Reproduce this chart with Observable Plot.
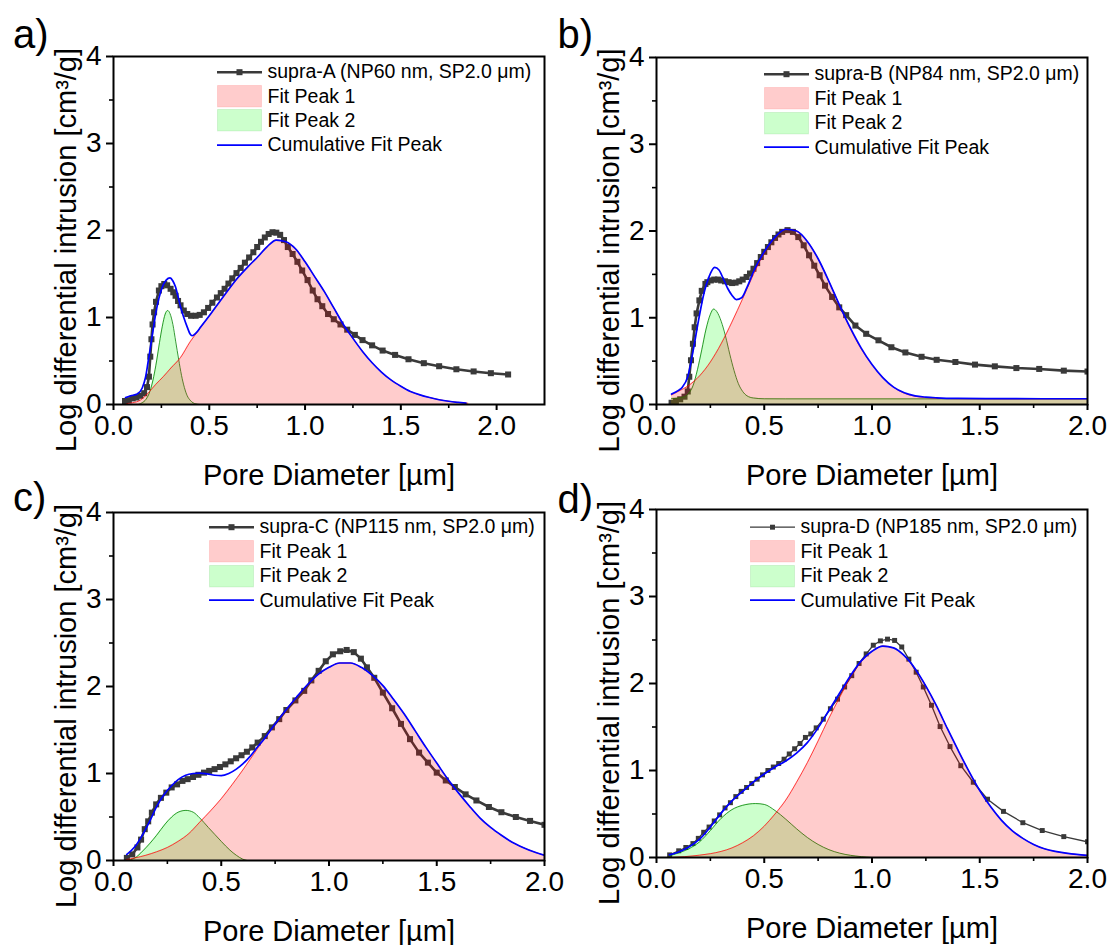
<!DOCTYPE html>
<html>
<head>
<meta charset="utf-8">
<script src="https://cdn.jsdelivr.net/npm/d3@7"></script>
<script src="https://cdn.jsdelivr.net/npm/@observablehq/plot@0.6"></script>
<style>
  body { margin: 0; background: #fff; }
  #root { position: relative; width: 1110px; height: 945px; overflow: hidden; font-family: "Liberation Sans", Arial, Helvetica, sans-serif; }
  .panel { position: absolute; }
  .legend { position: absolute; font-size: 19.5px; color: #000; }
  .row { position: absolute; left: 0; display: flex; align-items: center; white-space: nowrap; }
  .row svg { display: block; flex: none; }
  .row span { margin-left: 5.5px; }
</style>
</head>
<body>
<div id="root"></div>
<script>
// ---------------- DATA ----------------
const xLabel = "Pore Diameter [µm]";
const yLabel = "Log differential intrusion [cm³/g]";
const legendFit1 = "Fit Peak 1";
const legendFit2 = "Fit Peak 2";
const legendCum = "Cumulative Fit Peak";
const namesMeasured = ["supra-A (NP60 nm, SP2.0 μm)", "supra-B (NP84 nm, SP2.0 μm)", "supra-C (NP115 nm, SP2.0 μm)", "supra-D (NP185 nm, SP2.0 μm)"];
const panelLabels = ["a)", "b)", "c)", "d)"];
const xMaxes = [2.25, 2.0, 2.0, 2.0];
const majorXTicks = [0, 0.5, 1.0, 1.5, 2.0];
const minorXTicks = [0.25, 0.75, 1.25, 1.75];
const majorYTicks = [0, 1, 2, 3, 4];
const minorYTicks = [0.5, 1.5, 2.5, 3.5];

// panel a
const measuredA = [[0.06,0.04],[0.08,0.05],[0.10,0.07],[0.12,0.08],[0.14,0.10],[0.16,0.13],[0.175,0.20],[0.185,0.32],[0.192,0.55],[0.198,0.75],[0.204,0.92],[0.212,1.06],[0.222,1.18],[0.237,1.31],[0.25,1.36],[0.265,1.385],[0.28,1.37],[0.298,1.33],[0.312,1.29],[0.324,1.25],[0.337,1.19],[0.35,1.14],[0.367,1.08],[0.385,1.04],[0.405,1.02],[0.429,1.02],[0.45,1.03],[0.472,1.06],[0.494,1.11],[0.516,1.17],[0.54,1.23],[0.56,1.28],[0.58,1.33],[0.60,1.39],[0.62,1.45],[0.642,1.51],[0.664,1.57],[0.686,1.63],[0.708,1.69],[0.73,1.75],[0.75,1.81],[0.77,1.87],[0.79,1.92],[0.81,1.96],[0.83,1.98],[0.85,1.975],[0.87,1.95],[0.89,1.89],[0.91,1.81],[0.935,1.73],[0.96,1.64],[0.985,1.54],[1.013,1.43],[1.04,1.31],[1.065,1.21],[1.09,1.13],[1.12,1.04],[1.15,0.98],[1.185,0.92],[1.22,0.86],[1.26,0.80],[1.30,0.74],[1.35,0.68],[1.405,0.62],[1.47,0.57],[1.54,0.52],[1.62,0.475],[1.70,0.44],[1.79,0.405],[1.88,0.38],[1.97,0.36],[2.06,0.345]];
const peak1A = [[0.07,0.01],[0.10,0.02],[0.14,0.05],[0.18,0.13],[0.22,0.23],[0.26,0.32],[0.30,0.42],[0.35,0.54],[0.40,0.72],[0.45,0.87],[0.50,1.02],[0.55,1.17],[0.60,1.32],[0.65,1.46],[0.70,1.58],[0.75,1.69],[0.80,1.81],[0.85,1.89],[0.90,1.87],[0.95,1.79],[1.00,1.64],[1.05,1.47],[1.10,1.30],[1.15,1.11],[1.20,0.92],[1.25,0.76],[1.30,0.61],[1.35,0.48],[1.40,0.37],[1.45,0.28],[1.50,0.21],[1.55,0.15],[1.60,0.11],[1.65,0.08],[1.70,0.055],[1.75,0.037],[1.80,0.024],[1.85,0.015]];
const peak2A = [[0.13,0],[0.15,0.02],[0.17,0.06],[0.19,0.15],[0.21,0.32],[0.225,0.50],[0.24,0.71],[0.255,0.90],[0.27,1.04],[0.283,1.08],[0.295,1.045],[0.31,0.92],[0.325,0.72],[0.34,0.52],[0.355,0.335],[0.37,0.195],[0.385,0.10],[0.40,0.05],[0.415,0.02],[0.43,0.007],[0.45,0]];
const cumulativeA = [[0.063,0.08],[0.09,0.10],[0.124,0.12],[0.15,0.19],[0.167,0.31],[0.18,0.48],[0.193,0.66],[0.207,0.86],[0.22,1.04],[0.237,1.22],[0.255,1.35],[0.275,1.43],[0.295,1.455],[0.31,1.42],[0.324,1.35],[0.337,1.24],[0.35,1.12],[0.367,1.00],[0.385,0.89],[0.40,0.81],[0.41,0.79],[0.43,0.82],[0.455,0.89],[0.507,1.04],[0.55,1.17],[0.60,1.32],[0.65,1.46],[0.70,1.58],[0.75,1.69],[0.80,1.81],[0.85,1.89],[0.90,1.87],[0.95,1.79],[1.00,1.64],[1.05,1.47],[1.10,1.30],[1.15,1.11],[1.20,0.92],[1.25,0.76],[1.30,0.61],[1.35,0.48],[1.40,0.37],[1.45,0.28],[1.50,0.21],[1.55,0.15],[1.60,0.11],[1.65,0.08],[1.70,0.055],[1.75,0.037],[1.80,0.024],[1.84,0.015]];

// panel b
const measuredB = [[0.07,0.02],[0.09,0.04],[0.11,0.06],[0.13,0.09],[0.145,0.15],[0.152,0.32],[0.16,0.51],[0.169,0.70],[0.177,0.89],[0.186,1.05],[0.199,1.20],[0.21,1.31],[0.227,1.39],[0.236,1.41],[0.252,1.43],[0.268,1.44],[0.285,1.44],[0.30,1.43],[0.318,1.42],[0.335,1.41],[0.351,1.40],[0.367,1.405],[0.384,1.42],[0.40,1.44],[0.418,1.47],[0.434,1.51],[0.45,1.565],[0.467,1.63],[0.484,1.70],[0.50,1.76],[0.517,1.815],[0.533,1.87],[0.55,1.92],[0.566,1.96],[0.583,1.99],[0.608,2.01],[0.633,1.99],[0.658,1.93],[0.683,1.835],[0.708,1.72],[0.732,1.60],[0.757,1.49],[0.782,1.37],[0.815,1.24],[0.848,1.12],[0.88,1.03],[0.923,0.91],[0.973,0.815],[1.03,0.74],[1.09,0.66],[1.155,0.60],[1.23,0.55],[1.30,0.515],[1.387,0.49],[1.478,0.46],[1.57,0.44],[1.67,0.42],[1.776,0.41],[1.89,0.39],[2.0,0.38]];
const peak1B = [[0.07,0.11],[0.10,0.15],[0.15,0.22],[0.20,0.33],[0.25,0.49],[0.30,0.70],[0.35,0.95],[0.40,1.22],[0.45,1.50],[0.50,1.75],[0.55,1.93],[0.60,2.02],[0.65,2.00],[0.70,1.88],[0.75,1.68],[0.80,1.42],[0.85,1.14],[0.90,0.87],[0.95,0.64],[1.00,0.46],[1.05,0.31],[1.10,0.20],[1.15,0.13],[1.20,0.095],[1.25,0.08],[1.30,0.072],[1.40,0.067],[1.60,0.065],[2.00,0.065]];
const peak2B = [[0.07,0.07],[0.10,0.075],[0.13,0.09],[0.15,0.13],[0.17,0.22],[0.19,0.40],[0.21,0.63],[0.23,0.87],[0.25,1.04],[0.265,1.10],[0.28,1.07],[0.30,0.96],[0.32,0.79],[0.34,0.58],[0.36,0.39],[0.38,0.24],[0.40,0.15],[0.42,0.10],[0.45,0.075],[0.50,0.066],[0.60,0.065],[2.00,0.065]];
const cumulativeB = [[0.07,0.12],[0.10,0.16],[0.12,0.20],[0.145,0.32],[0.17,0.62],[0.195,0.97],[0.22,1.28],[0.245,1.48],[0.27,1.58],[0.29,1.55],[0.31,1.45],[0.33,1.34],[0.35,1.26],[0.37,1.21],[0.395,1.23],[0.42,1.35],[0.45,1.53],[0.50,1.76],[0.55,1.93],[0.60,2.02],[0.65,2.00],[0.70,1.88],[0.75,1.68],[0.80,1.42],[0.85,1.14],[0.90,0.88],[0.95,0.65],[1.00,0.46],[1.05,0.31],[1.10,0.20],[1.15,0.135],[1.20,0.10],[1.25,0.085],[1.30,0.077],[1.40,0.07],[1.60,0.067],[2.00,0.066]];

// panel c
const measuredC = [[0.062,0.03],[0.087,0.07],[0.111,0.15],[0.128,0.24],[0.145,0.36],[0.161,0.45],[0.178,0.55],[0.198,0.645],[0.22,0.72],[0.245,0.78],[0.27,0.84],[0.295,0.875],[0.32,0.915],[0.344,0.935],[0.369,0.96],[0.394,0.985],[0.42,1.01],[0.444,1.03],[0.469,1.05],[0.494,1.075],[0.519,1.105],[0.544,1.14],[0.569,1.175],[0.594,1.21],[0.619,1.25],[0.644,1.30],[0.669,1.355],[0.702,1.43],[0.735,1.53],[0.769,1.625],[0.802,1.73],[0.844,1.84],[0.885,1.95],[0.918,2.07],[0.952,2.18],[0.985,2.29],[1.018,2.37],[1.052,2.405],[1.082,2.42],[1.115,2.395],[1.148,2.32],[1.176,2.22],[1.21,2.10],[1.25,1.93],[1.293,1.75],[1.334,1.57],[1.376,1.395],[1.418,1.24],[1.459,1.125],[1.50,1.01],[1.542,0.92],[1.584,0.845],[1.634,0.76],[1.684,0.69],[1.742,0.615],[1.80,0.555],[1.867,0.50],[1.933,0.455],[2.0,0.41]];
const peak1C = [[0.06,0.01],[0.10,0.03],[0.15,0.06],[0.20,0.10],[0.25,0.15],[0.30,0.22],[0.35,0.31],[0.40,0.44],[0.45,0.57],[0.50,0.71],[0.55,0.87],[0.60,1.04],[0.65,1.22],[0.70,1.40],[0.75,1.57],[0.80,1.73],[0.85,1.88],[0.90,2.02],[0.95,2.14],[1.00,2.22],[1.05,2.27],[1.10,2.27],[1.15,2.22],[1.20,2.13],[1.25,2.01],[1.30,1.85],[1.35,1.68],[1.40,1.49],[1.45,1.30],[1.50,1.12],[1.55,0.94],[1.60,0.78],[1.65,0.63],[1.70,0.49],[1.75,0.38],[1.80,0.29],[1.85,0.21],[1.90,0.15],[1.95,0.10],[2.00,0.06]];
const peak2C = [[0.06,0],[0.08,0.01],[0.10,0.03],[0.136,0.11],[0.17,0.20],[0.20,0.29],[0.24,0.42],[0.27,0.50],[0.30,0.555],[0.336,0.576],[0.37,0.555],[0.40,0.49],[0.44,0.38],[0.47,0.30],[0.50,0.22],[0.54,0.12],[0.57,0.06],[0.60,0.015],[0.62,0]];
const cumulativeC = [[0.062,0.07],[0.10,0.16],[0.136,0.30],[0.17,0.46],[0.20,0.62],[0.235,0.76],[0.27,0.86],[0.30,0.93],[0.335,0.98],[0.37,1.00],[0.40,1.005],[0.435,0.995],[0.47,0.98],[0.50,0.975],[0.535,1.00],[0.57,1.05],[0.60,1.11],[0.635,1.20],[0.67,1.31],[0.70,1.40],[0.75,1.57],[0.80,1.73],[0.85,1.88],[0.90,2.02],[0.95,2.14],[1.00,2.22],[1.05,2.27],[1.10,2.27],[1.15,2.22],[1.20,2.13],[1.25,2.01],[1.30,1.85],[1.35,1.68],[1.40,1.49],[1.45,1.30],[1.50,1.12],[1.55,0.94],[1.60,0.78],[1.65,0.63],[1.70,0.49],[1.75,0.38],[1.80,0.29],[1.85,0.21],[1.90,0.15],[1.95,0.10],[2.00,0.06]];

// panel d
const measuredD = [[0.061,0.03],[0.103,0.077],[0.136,0.115],[0.169,0.16],[0.194,0.22],[0.219,0.29],[0.244,0.35],[0.268,0.42],[0.293,0.49],[0.318,0.57],[0.343,0.63],[0.368,0.70],[0.393,0.76],[0.418,0.805],[0.442,0.85],[0.467,0.90],[0.492,0.95],[0.517,1.0],[0.542,1.04],[0.567,1.08],[0.592,1.13],[0.616,1.19],[0.641,1.25],[0.666,1.31],[0.691,1.38],[0.716,1.42],[0.741,1.49],[0.774,1.59],[0.807,1.71],[0.84,1.82],[0.873,1.96],[0.906,2.09],[0.94,2.23],[0.973,2.34],[1.006,2.44],[1.039,2.49],[1.072,2.51],[1.105,2.495],[1.138,2.42],[1.171,2.28],[1.205,2.13],[1.238,1.96],[1.276,1.75],[1.316,1.505],[1.362,1.275],[1.412,1.055],[1.47,0.865],[1.536,0.67],[1.61,0.53],[1.70,0.40],[1.79,0.31],[1.89,0.24],[2.0,0.18]];
const peak1D = [[0.06,0.0],[0.20,0.027],[0.30,0.07],[0.35,0.11],[0.40,0.17],[0.45,0.25],[0.50,0.36],[0.55,0.50],[0.60,0.66],[0.65,0.865],[0.70,1.09],[0.75,1.34],[0.80,1.60],[0.85,1.84],[0.90,2.07],[0.95,2.25],[1.00,2.37],[1.05,2.43],[1.10,2.41],[1.15,2.32],[1.20,2.17],[1.25,1.97],[1.30,1.74],[1.35,1.48],[1.40,1.23],[1.45,0.99],[1.50,0.77],[1.55,0.585],[1.60,0.43],[1.65,0.31],[1.70,0.22],[1.75,0.15],[1.80,0.10],[1.85,0.07],[1.90,0.05],[1.95,0.035],[2.00,0.025]];
const peak2D = [[0.06,0.02],[0.10,0.05],[0.15,0.10],[0.20,0.18],[0.25,0.31],[0.30,0.45],[0.35,0.55],[0.40,0.60],[0.46,0.62],[0.50,0.61],[0.55,0.54],[0.60,0.44],[0.65,0.33],[0.70,0.23],[0.75,0.15],[0.80,0.09],[0.85,0.05],[0.90,0.025],[0.95,0.01],[1.00,0]];
const cumulativeD = [[0.06,0.03],[0.10,0.06],[0.15,0.12],[0.20,0.21],[0.25,0.35],[0.30,0.51],[0.35,0.65],[0.40,0.76],[0.45,0.87],[0.50,0.96],[0.55,1.04],[0.60,1.11],[0.65,1.20],[0.70,1.32],[0.75,1.49],[0.80,1.69],[0.85,1.89],[0.90,2.09],[0.95,2.26],[1.00,2.37],[1.05,2.43],[1.10,2.41],[1.15,2.32],[1.20,2.17],[1.25,1.97],[1.30,1.74],[1.35,1.48],[1.40,1.23],[1.45,0.99],[1.50,0.77],[1.55,0.585],[1.60,0.43],[1.65,0.31],[1.70,0.22],[1.75,0.15],[1.80,0.10],[1.85,0.07],[1.90,0.05],[1.95,0.035],[2.00,0.025]];

const measuredSets = [measuredA, measuredB, measuredC, measuredD];
const peak1Sets = [peak1A, peak1B, peak1C, peak1D];
const peak2Sets = [peak2A, peak2B, peak2C, peak2D];
const cumulativeSets = [cumulativeA, cumulativeB, cumulativeC, cumulativeD];

// ---------------- LAYOUT / STYLE ----------------
const FONT = '"Liberation Sans", Arial, Helvetica, sans-serif';
const DATA_COLOR = "#3a3a3a";
const layouts = [
  {left: 0,   top: 0,   mt: 56, mb: 86, lab: [-100.5, -9], leg: [104, 15.7], lw: 2.6, r: 3.4},
  {left: 543, top: 0,   mt: 57, mb: 86, lab: [-99, -10],   leg: [108, 17],   lw: 2.6, r: 3.4},
  {left: 0,   top: 455, mt: 57, mb: 85, lab: [-100.5, -2], leg: [96, 15],    lw: 2.6, r: 3.4},
  {left: 543, top: 455, mt: 54, mb: 88, lab: [-99, 3],     leg: [94, 18],    lw: 1.3, r: 2.8}
];
const W = 555, H = 490, ML = 113, MR = 11;
const X = d => d[0], Y = d => d[1];

const root = document.getElementById("root");

layouts.forEach((L, i) => {
  const chart = Plot.plot({
    width: W, height: H,
    marginLeft: ML, marginRight: MR, marginTop: L.mt, marginBottom: L.mb,
    x: {domain: [0, xMaxes[i]]},
    y: {domain: [0, 4]},
    style: {fontFamily: FONT, background: "transparent", overflow: "visible", color: "#000"},
    marks: [
      Plot.line(measuredSets[i], {x: X, y: Y, stroke: DATA_COLOR, strokeWidth: L.lw, clip: true}),
      Plot.dot(measuredSets[i], {x: X, y: Y, symbol: "square", r: L.r, fill: DATA_COLOR, stroke: "none", clip: true}),
      Plot.areaY(peak2Sets[i], {x: X, y: Y, fill: "#00ff00", fillOpacity: 0.2, curve: "monotone-x", clip: true}),
      Plot.line(peak2Sets[i], {x: X, y: Y, stroke: "#008000", strokeWidth: 0.8, curve: "monotone-x", clip: true}),
      Plot.areaY(peak1Sets[i], {x: X, y: Y, fill: "#ff0000", fillOpacity: 0.2, curve: "monotone-x", clip: true}),
      Plot.line(peak1Sets[i], {x: X, y: Y, stroke: "#ff0000", strokeWidth: 0.7, curve: "monotone-x", clip: true}),
      Plot.line(cumulativeSets[i], {x: X, y: Y, stroke: "#0000ff", strokeWidth: 1.7, curve: "monotone-x", clip: true}),
      Plot.axisX({ticks: minorXTicks, tickSize: 4, tickFormat: () => "", label: null, strokeWidth: 1.6}),
      Plot.axisX({ticks: majorXTicks, tickSize: 6, tickPadding: 5, tickFormat: d3.format(".1f"), fontSize: 28, label: null, strokeWidth: 2}),
      Plot.axisY({ticks: minorYTicks, tickSize: 4, tickFormat: () => "", label: null, strokeWidth: 1.6}),
      Plot.axisY({ticks: majorYTicks, tickSize: 7, tickPadding: 5, tickFormat: d3.format("d"), fontSize: 28, label: null, strokeWidth: 2}),
      Plot.frame({stroke: "#000", strokeWidth: 2}),
      Plot.text([xLabel], {text: d => d, frameAnchor: "bottom", dy: 80, textAnchor: "middle", lineAnchor: "bottom", fontSize: 29, fill: "#000"}),
      Plot.text([yLabel], {text: d => d, frameAnchor: "left", rotate: -90, dx: -38, dy: 19.5, textAnchor: "middle", lineAnchor: "bottom", fontSize: 29, fill: "#000"}),
      Plot.text([panelLabels[i]], {text: d => d, frameAnchor: "top-left", dx: L.lab[0], dy: L.lab[1], textAnchor: "start", lineAnchor: "bottom", fontSize: 40, fill: "#000"})
    ]
  });
  const wrap = document.createElement("div");
  wrap.className = "panel";
  wrap.style.left = L.left + "px";
  wrap.style.top = L.top + "px";
  wrap.style.width = W + "px";
  wrap.style.height = H + "px";
  wrap.appendChild(chart);
  root.appendChild(wrap);

  // legend (inside the frame, top right)
  const leg = document.createElement("div");
  leg.className = "legend";
  leg.style.left = (L.left + ML + L.leg[0]) + "px";
  leg.style.top = (L.top + L.mt + L.leg[1] - 12.2) + "px";
  const rowH = 24.4;
  const swW = 45;
  const rows = [
    {text: namesMeasured[i], svg: `<line x1="0" x2="${swW}" y1="12.2" y2="12.2" stroke="${DATA_COLOR}" stroke-width="${L.lw}"/><rect x="${swW/2 - L.r*0.886}" y="${12.2 - L.r*0.886}" width="${L.r*1.772}" height="${L.r*1.772}" fill="${DATA_COLOR}"/>`},
    {text: legendFit1, svg: `<rect x="0.5" y="1.5" width="${swW-1}" height="21.4" fill="rgba(255,0,0,0.2)" stroke="rgba(255,0,0,0.12)"/>`},
    {text: legendFit2, svg: `<rect x="0.5" y="1.5" width="${swW-1}" height="21.4" fill="rgba(0,255,0,0.2)" stroke="rgba(0,160,0,0.12)"/>`},
    {text: legendCum, svg: `<line x1="0" x2="${swW}" y1="12.2" y2="12.2" stroke="#0000ff" stroke-width="1.7"/>`}
  ];
  rows.forEach((r, k) => {
    const row = document.createElement("div");
    row.className = "row";
    row.style.top = (k * rowH) + "px";
    row.style.height = rowH + "px";
    row.innerHTML = `<svg width="${swW}" height="${rowH}" viewBox="0 0 ${swW} ${rowH}">${r.svg}</svg><span></span>`;
    row.querySelector("span").textContent = r.text;
    leg.appendChild(row);
  });
  root.appendChild(leg);
});
</script>
</body>
</html>
